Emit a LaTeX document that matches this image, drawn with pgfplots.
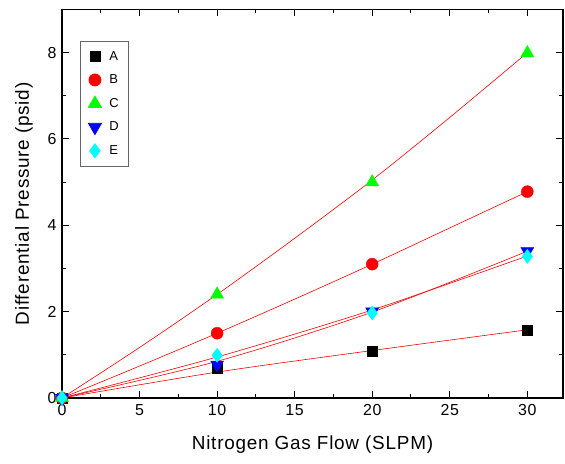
\documentclass[border=0pt]{standalone}
\usepackage{fontspec}
\setmainfont{Liberation Sans}[LetterSpace=4]
\usepackage{pgfplots}
\pgfplotsset{compat=1.18}

\definecolor{cgreen}{RGB}{0,255,0}
\definecolor{ccyan}{RGB}{0,255,255}

\begin{document}
\begin{tikzpicture}
\begin{axis}[
    scale only axis,
    width=501bp, height=388.5bp,
    xmin=0, xmax=32.3,
    ymin=0, ymax=9,
    xtick={0,5,...,30},
    ytick={0,2,...,8},
    minor x tick num=1,
    minor y tick num=1,
    tick align=inside,
    major tick length=7bp,
    minor tick length=4bp,
    axis line style={line width=1.2pt},
    every tick/.style={black, line width=1pt},
    tick label style={font=\fontsize{16}{18}\selectfont},
    x tick label style={yshift=-3bp},
    y tick label style={xshift=-2bp},
    /pgf/number format/assume math mode=true,
    xlabel={Nitrogen Gas Flow (SLPM)},
    ylabel={Differential Pressure (psid)},
    label style={font=\fontsize{19}{22}\selectfont},
    xlabel style={yshift=-13bp},
    ylabel style={yshift=8bp},
    clip=false,
    legend style={at={(0.036,0.919)}, anchor=north west,
        draw=gray!80!black, line width=0.8pt,
        font=\fontsize{13}{15}\selectfont,
        row sep=9bp, column sep=6bp, inner xsep=8bp, inner ysep=8bp},
    legend cell align=left,
]
% fitted curves (red)
\addplot[red, line width=0.6pt, smooth, forget plot] coordinates {(0,0) (10,0.6) (20,1.1) (30,1.58)};
\addplot[red, line width=0.6pt, smooth, forget plot] coordinates {(0,0) (5,0.74) (10,1.5) (15,2.29) (20,3.1) (25,3.94) (30,4.78)};
\addplot[red, line width=0.6pt, smooth, forget plot] coordinates {(0,0) (5,1.17) (10,2.4) (15,3.7) (20,5.05) (25,6.5) (30,8.0)};
\addplot[red, line width=0.6pt, smooth, forget plot] coordinates {(0,0) (10,0.85) (20,1.99) (30,3.4)};
\addplot[red, line width=0.6pt, smooth, forget plot] coordinates {(0,0) (10,0.95) (20,2.04) (30,3.29)};
% data
\addplot[only marks, mark=square*, mark size=5bp, black, mark options={fill=black}] coordinates {(0,0) (10,0.69) (20,1.08) (30,1.58)};
\addlegendentry{A}
\addplot[only marks, mark=*, mark size=6bp, red, mark options={fill=red}] coordinates {(0,0) (10,1.5) (20,3.1) (30,4.78)};
\addlegendentry{B}
\addplot[only marks, mark=triangle*, mark size=7.5bp, cgreen, mark options={fill=cgreen}] coordinates {(0,0) (10,2.4) (20,5.0) (30,7.99)};
\addlegendentry{C}
\addplot[only marks, mark=triangle*, mark size=7.5bp, blue, mark options={fill=blue, rotate=180}] coordinates {(0,0) (10,0.77) (20,2.0) (30,3.4)};
\addlegendentry{D}
\addplot[only marks, mark=diamond*, mark size=7bp, ccyan, mark options={fill=ccyan}] coordinates {(0,0) (10,0.99) (20,1.97) (30,3.28)};
\addlegendentry{E}
\end{axis}
\path ([shift={(-62bp,-66bp)}]current axis.south west) rectangle ([shift={(2bp,9.5bp)}]current axis.north east);
\end{tikzpicture}
\end{document}
